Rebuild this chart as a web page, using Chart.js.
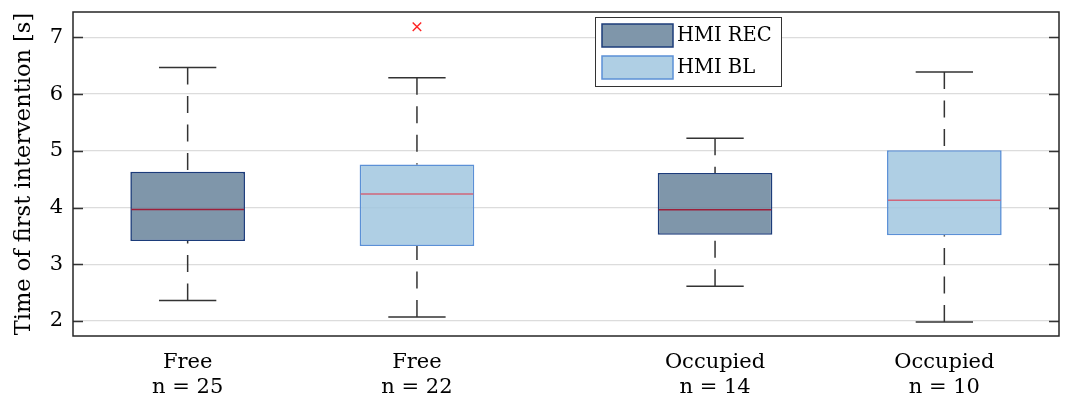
<!DOCTYPE html>
<html>
<head>
<meta charset="utf-8">
<script src="https://cdn.jsdelivr.net/npm/chart.js@4.4.1/dist/chart.umd.min.js"></script>
<style>
  html, body { margin: 0; padding: 0; background: #fff; }
  #wrap { width: 1067px; height: 401px; }
</style>
</head>
<body>
<div id="wrap"><canvas id="c"></canvas></div>
<script>
// Time of first intervention per HMI variant and lane condition
const groups       = ['HMI REC', 'HMI BL', 'HMI REC', 'HMI BL'];
const conditions   = ['Free', 'Free', 'Occupied', 'Occupied'];
const sampleSizes  = [25, 22, 14, 10];
const positions    = [1, 2, 3.3, 4.3];
const whiskerLow   = [2.36, 2.07, 2.61, 1.98];
const quartile1    = [3.41, 3.32, 3.52, 3.51];
const medians      = [3.965, 4.24, 3.96, 4.13];
const quartile3    = [4.63, 4.76, 4.61, 5.01];
const whiskerHigh  = [6.47, 6.29, 5.22, 6.39];
const outlierPos   = [2];
const outlierVal   = [7.19];
const yTicks       = [2, 3, 4, 5, 6, 7];

const FONT = "'DejaVu Serif', 'Liberation Serif', serif";
const seriesStyle = {
  'HMI REC': { fill: 'rgba(106,133,156,0.86)', border: '#1c3c7a', median: '#9e1f3a' },
  'HMI BL':  { fill: 'rgba(162,199,223,0.86)', border: '#5b90d6', median: '#d0667a' }
};
const seriesNames = ['HMI REC', 'HMI BL'];

const boxDatasets = seriesNames.map(name => ({
  type: 'bar',
  label: name,
  data: positions
    .map((p, i) => ({ x: p, y: [quartile1[i], quartile3[i]], idx: i }))
    .filter(d => groups[d.idx] === name),
  backgroundColor: seriesStyle[name].fill,
  borderColor: seriesStyle[name].border,
  borderWidth: 1.6,
  borderSkipped: false,
  grouped: false,
  categoryPercentage: 1,
  barPercentage: 0.5
}));

const outlierDataset = {
  type: 'scatter',
  label: 'outliers',
  data: outlierPos.map((p, i) => ({ x: p, y: outlierVal[i] })),
  pointStyle: 'crossRot',
  radius: 6,
  borderColor: '#ff2222',
  backgroundColor: '#ff2222',
  borderWidth: 1.4
};

// Whiskers, caps, medians, frame, inward ticks and legend
const boxPlotPlugin = {
  id: 'boxPlotExtras',
  afterDatasetsDraw(chart) {
    const ctx = chart.ctx;
    const xs = chart.scales.x, ys = chart.scales.y;
    seriesNames.forEach((name, d) => {
      const meta = chart.getDatasetMeta(d);
      const ds = chart.data.datasets[d];
      meta.data.forEach((bar, j) => {
        const i = ds.data[j].idx;
        const cx = xs.getPixelForValue(positions[i]);
        const half = bar.width / 2;
        const yLo = ys.getPixelForValue(whiskerLow[i]);
        const yQ1 = ys.getPixelForValue(quartile1[i]);
        const yQ3 = ys.getPixelForValue(quartile3[i]);
        const yHi = ys.getPixelForValue(whiskerHigh[i]);
        const yMed = ys.getPixelForValue(medians[i]);
        ctx.save();
        ctx.strokeStyle = '#333333';
        ctx.lineWidth = 1.5;
        // dashed whiskers, dash pattern starts at the caps
        ctx.setLineDash([17, 11.5]);
        ctx.beginPath();
        ctx.moveTo(cx, yHi); ctx.lineTo(cx, yQ3);
        ctx.moveTo(cx, yLo); ctx.lineTo(cx, yQ1);
        ctx.stroke();
        ctx.setLineDash([]);
        // caps
        ctx.beginPath();
        ctx.moveTo(cx - half / 2, yHi); ctx.lineTo(cx + half / 2, yHi);
        ctx.moveTo(cx - half / 2, yLo); ctx.lineTo(cx + half / 2, yLo);
        ctx.stroke();
        // median
        ctx.strokeStyle = seriesStyle[name].median;
        ctx.lineWidth = 1.5;
        ctx.beginPath();
        ctx.moveTo(cx - half + 1, yMed); ctx.lineTo(cx + half - 1, yMed);
        ctx.stroke();
        ctx.restore();
      });
    });
  },
  afterDraw(chart) {
    const ctx = chart.ctx;
    const a = chart.chartArea;
    const ys = chart.scales.y;
    ctx.save();
    // inward tick marks on both vertical sides
    ctx.strokeStyle = '#333333';
    ctx.lineWidth = 1.5;
    ctx.beginPath();
    yTicks.forEach(v => {
      const y = Math.round(ys.getPixelForValue(v)) + 0.5;
      ctx.moveTo(a.left, y); ctx.lineTo(a.left + 10, y);
      ctx.moveTo(a.right, y); ctx.lineTo(a.right - 10, y);
    });
    ctx.stroke();
    // frame
    ctx.strokeStyle = '#262626';
    ctx.lineWidth = 1.5;
    ctx.strokeRect(a.left, a.top, a.right - a.left, a.bottom - a.top);

    // legend
    const lx = a.left + 522, ly = a.top + 5, lw = 186, lh = 69;
    ctx.fillStyle = '#ffffff';
    ctx.fillRect(lx, ly, lw, lh);
    ctx.strokeStyle = '#333333';
    ctx.lineWidth = 1;
    ctx.strokeRect(lx + 0.5, ly + 0.5, lw, lh);
    seriesNames.forEach((name, k) => {
      const sy = ly + 7 + k * 32;
      ctx.fillStyle = '#ffffff';
      ctx.fillRect(lx + 7, sy, 71, 23);
      ctx.fillStyle = seriesStyle[name].fill;
      ctx.fillRect(lx + 7, sy, 71, 23);
      ctx.strokeStyle = seriesStyle[name].border;
      ctx.lineWidth = 1.5;
      ctx.strokeRect(lx + 7, sy, 71, 23);
      ctx.fillStyle = '#000000';
      ctx.font = '19.5px ' + FONT;
      ctx.textBaseline = 'middle';
      ctx.textAlign = 'left';
      ctx.fillText(name, lx + 82, sy + 12);
    });
    ctx.restore();
  }
};

new Chart(document.getElementById('c'), {
  type: 'bar',
  data: { datasets: [...boxDatasets, outlierDataset] },
  options: {
    responsive: true,
    maintainAspectRatio: false,
    animation: false,
    layout: { padding: { top: 12, right: 8, left: 0, bottom: 0 } },
    plugins: { legend: { display: false }, tooltip: { enabled: false } },
    scales: {
      x: {
        type: 'linear',
        min: 0.5,
        max: 4.8,
        offset: false,
        afterBuildTicks: s => { s.ticks = positions.map(v => ({ value: v })); },
        afterFit: s => { s.height = 65; s.paddingLeft = 0; s.paddingRight = 0; },
        ticks: {
          autoSkip: false,
          maxRotation: 0,
          padding: 14,
          color: '#000',
          font: { family: FONT, size: 21, lineHeight: 1.2 },
          callback: v => {
            const i = positions.findIndex(p => Math.abs(p - v) < 1e-6);
            return i < 0 ? '' : [conditions[i], 'n = ' + sampleSizes[i]];
          }
        },
        grid: { display: false, drawTicks: false, offset: false },
        border: { display: false }
      },
      y: {
        type: 'linear',
        min: 1.734,
        max: 7.449,
        afterBuildTicks: s => { s.ticks = yTicks.map(v => ({ value: v })); },
        afterFit: s => { s.width = 73; s.paddingTop = 0; s.paddingBottom = 0; },
        ticks: {
          padding: 10,
          color: '#000',
          font: { family: FONT, size: 21 }
        },
        grid: { color: '#dcdcdc', lineWidth: 1.3, drawTicks: false },
        border: { display: false },
        title: {
          display: true,
          text: 'Time of first intervention [s]',
          color: '#000',
          font: { family: FONT, size: 22.5 },
          padding: { top: 11, bottom: 0 }
        }
      }
    }
  },
  plugins: [boxPlotPlugin]
});
</script>
</body>
</html>
